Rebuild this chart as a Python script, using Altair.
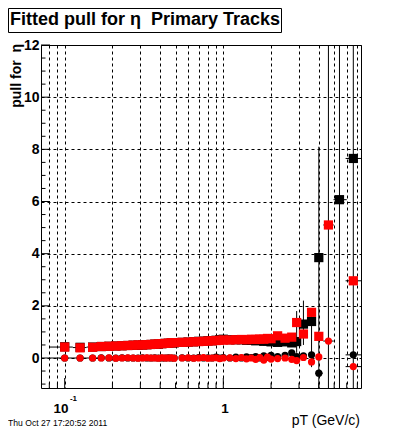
import altair as alt
import pandas as pd

# ---------------- data ----------------
pt = [0.1, 0.125, 0.15,
      0.17, 0.19, 0.21, 0.23, 0.25, 0.27, 0.29, 0.31, 0.33, 0.35, 0.37, 0.39, 0.41, 0.43, 0.45, 0.47, 0.49,
      0.55, 0.6, 0.65, 0.7, 0.75, 0.8, 0.85, 0.9, 0.95, 1.0,
      1.1, 1.2, 1.3, 1.4, 1.5, 1.6, 1.7, 1.8, 1.9, 2.0,
      2.2, 2.45, 2.7, 2.9, 3.2, 3.6, 4.0, 4.6, 5.4, 6.6]

red_sq = [0.42, 0.39, 0.41,
          0.44, 0.45, 0.46, 0.47, 0.48, 0.49, 0.50, 0.50, 0.51, 0.52, 0.53, 0.54, 0.55, 0.56, 0.57, 0.58, 0.59,
          0.60, 0.61, 0.62, 0.63, 0.64, 0.65, 0.66, 0.67, 0.68, 0.69,
          0.69, 0.70, 0.71, 0.70, 0.72, 0.71, 0.73, 0.72, 0.75, 0.74,
          0.85, 0.76, 0.80, 1.36, 0.92, 1.75, 0.83, 5.10, None, 2.96]

blk_sq = [0.43, 0.41, 0.42,
          0.44, 0.45, 0.46, 0.47, 0.48, 0.49, 0.49, 0.50, 0.51, 0.52, 0.53, 0.53, 0.55, 0.56, 0.56, 0.58, 0.58,
          0.60, 0.61, 0.62, 0.64, 0.64, 0.66, 0.66, 0.68, 0.70, 0.72,
          0.70, 0.70, 0.70, 0.68, 0.68, 0.66, 0.68, 0.64, 0.66, 0.62,
          0.60, 0.62, 0.58, 0.63, 1.30, 1.40, 3.85, None, 6.07, 7.65]

red_ci = [0.0, 0.0, 0.0,
          0.0, 0.01, -0.01, 0.0, 0.01, 0.0, -0.01, 0.0, 0.01, 0.0, 0.0, -0.01, 0.01, 0.0, 0.0, 0.01, -0.01,
          0.0, 0.01, -0.01, 0.0, 0.02, -0.01, 0.0, 0.01, -0.02, 0.0,
          0.01, -0.02, 0.02, -0.03, 0.0, -0.05, 0.02, -0.08, 0.03, -0.04,
          -0.02, 0.0, -0.05, -0.10, 0.02, -0.15, 0.04, 0.65, None, -0.33]

blk_ci = [0.0, 0.0, 0.0,
          0.01, 0.0, 0.0, 0.01, 0.0, 0.0, 0.0, 0.01, 0.0, 0.0, 0.01, 0.0, 0.0, 0.0, 0.01, 0.0, 0.0,
          0.01, 0.0, 0.0, 0.02, 0.0, 0.01, 0.0, 0.03, 0.0, 0.02,
          0.0, 0.03, 0.0, 0.04, 0.02, 0.05, 0.0, 0.08, 0.02, 0.10,
          0.05, 0.10, 0.20, 0.05, 0.08, 0.12, -0.58, None, None, 0.12]

# vertical error bars (pT, low, high)
ey_pt = [2.9, 3.2, 3.6, 4.0, 4.6, 5.4, 6.6]
ey_lo = [0.2, 0.5, -0.35, -5.0, -5.0, -5.0, -5.0]
ey_hi = [1.8, 2.2, 1.65, 8.1, 20.0, 20.0, 20.0]

# horizontal error bars (pT low, pT high, value)
ex_lo = [0.08, 0.08, 0.1125, 0.1125, 0.1375, 0.1375, 3.8, 3.8, 3.8, 4.27, 4.27, 4.95, 5.9, 5.9, 5.9, 5.9]
ex_hi = [0.1125, 0.1125, 0.1375, 0.1375, 0.1625, 0.1625, 4.25, 4.25, 4.25, 4.97, 4.97, 6.0, 7.4, 7.4, 7.4, 7.4]
ex_y = [0.0, 0.42, 0.0, 0.40, 0.0, 0.42, 3.85, -0.58, 0.83, 0.65, 5.10, 6.07, 7.65, 2.96, 0.12, -0.33]

# axis grid / ticks
x_grid = [0.08, 0.09, 0.1, 0.2, 0.3, 0.4, 0.5, 0.6, 0.7, 0.8, 0.9, 1, 2, 3, 4, 5, 6, 7]
x_major = [0.1, 1]
x_minor = [0.08, 0.09, 0.2, 0.3, 0.4, 0.5, 0.6, 0.7, 0.8, 0.9, 2, 3, 4, 5, 6, 7]
y_grid = [0, 2, 4, 6, 8, 10, 12]
y_minor = [-1, -0.5, 0.5, 1, 1.5, 2.5, 3, 3.5, 4.5, 5, 5.5, 6.5, 7, 7.5, 8.5, 9, 9.5, 10.5, 11, 11.5]

title_text = "Fitted pull for η\u00a0\u00a0Primary Tracks"
ytitle_text = "pull for\u00a0\u00a0η"
xtitle_text = "pT (GeV/c)"
date_text = "Thu Oct 27 17:20:52 2011"

# ---------------- chart ----------------
FONT = "Liberation Sans"
W, H = 320, 343

xscale = alt.Scale(type="log", domain=[0.0709, 7.38], nice=False)
yscale = alt.Scale(domain=[-1.15, 12.0], nice=False, zero=False)

xax = alt.Axis(values=x_grid, grid=True, gridColor="black", gridDash=[3, 3], gridWidth=1,
               gridOpacity=1, labels=False, ticks=False, domain=False, title=None)
yax = alt.Axis(values=y_grid, grid=True, gridColor="black", gridDash=[3, 3], gridWidth=1,
               gridOpacity=1, labels=True, labelFont=FONT, labelFontWeight="bold",
               labelFontSize=14, labelColor="black", labelPadding=2, labelFlush=False,
               ticks=False, domain=False, title=None)

df = pd.DataFrame({"pt": pt, "rs": red_sq, "bs": blk_sq, "rc": red_ci, "bc": blk_ci})
df_ey = pd.DataFrame({"pt": ey_pt, "lo": ey_lo, "hi": ey_hi})
df_ex = pd.DataFrame({"lo": ex_lo, "hi": ex_hi, "y": ex_y})

X = lambda f: alt.X(f, scale=xscale, axis=xax)
Y = lambda f: alt.Y(f, scale=yscale, axis=yax)

ytick_major = alt.Chart(pd.DataFrame({"v": y_grid})).mark_rule(color="black").encode(
    y=Y("v:Q"), x=alt.value(0), x2=alt.value(9))
ytick_minor = alt.Chart(pd.DataFrame({"v": y_minor})).mark_rule(color="black").encode(
    y=Y("v:Q"), x=alt.value(0), x2=alt.value(4.5))
xtick_major = alt.Chart(pd.DataFrame({"v": x_major})).mark_rule(color="black").encode(
    x=X("v:Q"), y=alt.value(H), y2=alt.value(H - 10))
xtick_minor = alt.Chart(pd.DataFrame({"v": x_minor})).mark_rule(color="black").encode(
    x=X("v:Q"), y=alt.value(H), y2=alt.value(H - 5.3))

err_y = alt.Chart(df_ey).mark_rule(color="black", strokeWidth=1, clip=True).encode(
    x=X("pt:Q"), y=Y("lo:Q"), y2="hi:Q")
err_x = alt.Chart(df_ex).mark_rule(color="black", strokeWidth=1, clip=True).encode(
    x=X("lo:Q"), x2="hi:Q", y=Y("y:Q"))

bsq = alt.Chart(df).mark_point(shape="square", filled=True, size=85, color="black",
                               opacity=1, strokeWidth=0, clip=True).encode(x=X("pt:Q"), y=Y("bs:Q"))
bci = alt.Chart(df).mark_point(shape="circle", filled=True, size=52, color="black",
                               opacity=1, strokeWidth=0, clip=True).encode(x=X("pt:Q"), y=Y("bc:Q"))
rsq = alt.Chart(df).mark_point(shape="square", filled=True, size=85, color="#ff0000",
                               opacity=1, strokeWidth=0, clip=True).encode(x=X("pt:Q"), y=Y("rs:Q"))
rci = alt.Chart(df).mark_point(shape="circle", filled=True, size=52, color="#ff0000",
                               opacity=1, strokeWidth=0, clip=True).encode(x=X("pt:Q"), y=Y("rc:Q"))

# x labels
lab10 = alt.Chart(pd.DataFrame({"v": [0.1], "t": ["10"]})).mark_text(
    font=FONT, fontWeight="bold", fontSize=13.5, align="center", baseline="alphabetic",
    dx=-3.7, color="black").encode(x=X("v:Q"), y=alt.value(367.5), text="t:N")
labsup = alt.Chart(pd.DataFrame({"v": [0.1], "t": ["-1"]})).mark_text(
    font=FONT, fontWeight="bold", fontSize=8, align="left", baseline="alphabetic",
    dx=5.2, color="black").encode(x=X("v:Q"), y=alt.value(356), text="t:N")
lab1 = alt.Chart(pd.DataFrame({"v": [1], "t": ["1"]})).mark_text(
    font=FONT, fontWeight="bold", fontSize=13.5, align="center", baseline="alphabetic",
    dx=1.7, color="black").encode(x=X("v:Q"), y=alt.value(367.5), text="t:N")

# decorations
title_box = alt.Chart(pd.DataFrame({"a": [0]})).mark_rect(
    fill="white", stroke="black", strokeWidth=1).encode(
    x=alt.value(-32.5), x2=alt.value(240.5), y=alt.value(-36.5), y2=alt.value(-12.5))
title = alt.Chart(pd.DataFrame({"t": [title_text]})).mark_text(
    font=FONT, fontWeight="bold", fontSize=18, align="center", baseline="alphabetic",
    color="black").encode(x=alt.value(104), y=alt.value(-20), text="t:N")
ytitle = alt.Chart(pd.DataFrame({"t": [ytitle_text]})).mark_text(
    font=FONT, fontWeight="bold", fontSize=14, align="right", baseline="alphabetic",
    angle=270, color="black").encode(x=alt.value(-20), y=alt.value(-1), text="t:N")
xtitle = alt.Chart(pd.DataFrame({"t": [xtitle_text]})).mark_text(
    font=FONT, fontSize=14, align="right", baseline="alphabetic",
    color="black").encode(x=alt.value(319), y=alt.value(380), text="t:N")
date = alt.Chart(pd.DataFrame({"t": [date_text]})).mark_text(
    font=FONT, fontSize=8.6, align="left", baseline="alphabetic",
    color="black").encode(x=alt.value(-33), y=alt.value(381), text="t:N")

chart = alt.layer(
    ytick_major, ytick_minor, xtick_major, xtick_minor,
    err_y, err_x, bsq, bci, rsq, rci,
    lab10, labsup, lab1, title_box, title, ytitle, xtitle, date
).properties(
    width=W, height=H,
    padding={"left": 33, "top": 37, "right": 31, "bottom": 42},
    autosize=alt.AutoSizeParams(type="none"),
    background="white",
).configure_view(stroke="black", strokeWidth=1)

chart.save("out.html", embed_options={"renderer": "svg", "actions": False})
